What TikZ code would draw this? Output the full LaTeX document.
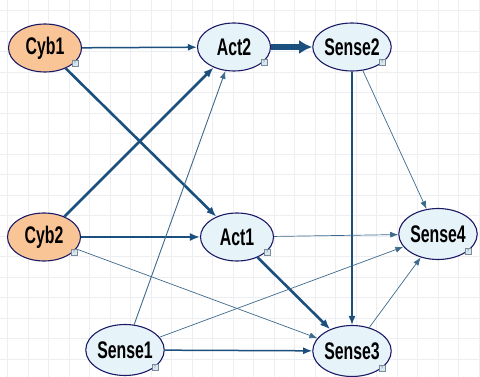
\documentclass[tikz,border=0pt]{standalone}
\usepackage{fontspec}
\setmainfont{Liberation Sans}
\usetikzlibrary{arrows.meta,calc,shapes.geometric}
\definecolor{edgeblue}{HTML}{1B4F7E}
\definecolor{thinblue}{HTML}{3E6A8C}
\definecolor{cybfill}{HTML}{F9C596}
\definecolor{sensefill}{HTML}{E6F3F8}
\definecolor{rim}{HTML}{1C1A66}
\definecolor{gridc}{HTML}{ECEEF2}
\definecolor{iconfill}{HTML}{D8E8F0}
\definecolor{iconrim}{HTML}{7A8A99}
\tikzset{
  ell/.style={ellipse, draw=rim, line width=1.1pt, minimum width=73pt, minimum height=48pt, inner sep=0pt,
    text=black, font=\fontsize{24}{24}\selectfont\bfseries},
  cybnode/.style={ell, fill=cybfill},
  sensenode/.style={ell, fill=sensefill},
  iconbox/.style={rectangle, draw=iconrim, fill=iconfill, line width=0.4pt, minimum width=5.5pt, minimum height=6.5pt,
    inner sep=0pt, font=\fontsize{4.5}{4.5}\selectfont, text=iconrim},
  conn/.style={draw=edgeblue, -{Latex[length=9pt,width=7pt]}},
  thinconn/.style={conn, draw=thinblue, line width=0.7pt, -{Latex[length=8pt,width=6pt]}},
  medconn/.style={conn, line width=1.5pt},
  thickconn/.style={conn, line width=2.6pt, -{Latex[length=10pt,width=8pt]}},
  hugeconn/.style={conn, line width=5.5pt, -{Latex[length=13pt,width=14pt]}},
}
\newcommand{\nlabel}[1]{\scalebox{0.66}[1]{#1}}
\begin{document}
\begin{tikzpicture}[x=1pt,y=-1pt]
\useasboundingbox (0,0) rectangle (480,377);
\fill[white] (0,0) rectangle (480,377);
\foreach \i in {0,...,23} {
  \draw[gridc, line width=0.5pt] (7.5+\i*20.5,0) -- (7.5+\i*20.5,377);
}
\foreach \j in {0,...,18} {
  \draw[gridc, line width=0.5pt] (0,10.5+\j*20.5) -- (480,10.5+\j*20.5);
}
% nodes
\node[cybnode] (cyb1) at (45,48) {\nlabel{Cyb1}};
\node[cybnode] (cyb2) at (44,237) {\nlabel{Cyb2}};
\node[sensenode] (act2) at (234,47) {\nlabel{Act2}};
\node[sensenode] (sense2) at (352,47) {\nlabel{Sense2}};
\node[sensenode] (act1) at (237,237) {\nlabel{Act1}};
\node[sensenode, minimum height=51pt] (sense4) at (438,234) {\nlabel{Sense4}};
\node[sensenode, minimum height=51pt] (sense1) at (125,350) {\nlabel{Sense1}};
\node[sensenode, minimum height=51pt] (sense3) at (352,351) {\nlabel{Sense3}};
% edges
\draw[medconn] (cyb1) -- (act2);
\draw[thickconn] (cyb1) -- (act1);
\draw[thickconn] (cyb2) -- (act2);
\draw[thickconn] (cyb2) -- (act1);
\draw[thinconn] (cyb2) -- (sense3);
\draw[hugeconn] (act2) -- (sense2);
\draw[thinconn] (sense2) -- (sense4);
\draw[medconn] (sense2) -- (sense3);
\draw[thinconn] (act1) -- (sense4);
\draw[thickconn] (act1) -- (sense3);
\draw[thinconn, line width=0.9pt] (sense1) -- (act2);
\draw[thinconn] (sense1) -- (sense4);
\draw[medconn] (sense1) -- (sense3);
\draw[thinconn] (sense3) -- (sense4);
% icons
\foreach \n in {cyb1,cyb2,act2,sense2,act1} {
  \node[iconbox] (\n-icon) at ($(\n.center)+(30,15)$) {?};
}
\foreach \n in {sense4,sense1,sense3} {
  \node[iconbox] (\n-icon) at ($(\n.center)+(30,17)$) {?};
}
\end{tikzpicture}
\end{document}
